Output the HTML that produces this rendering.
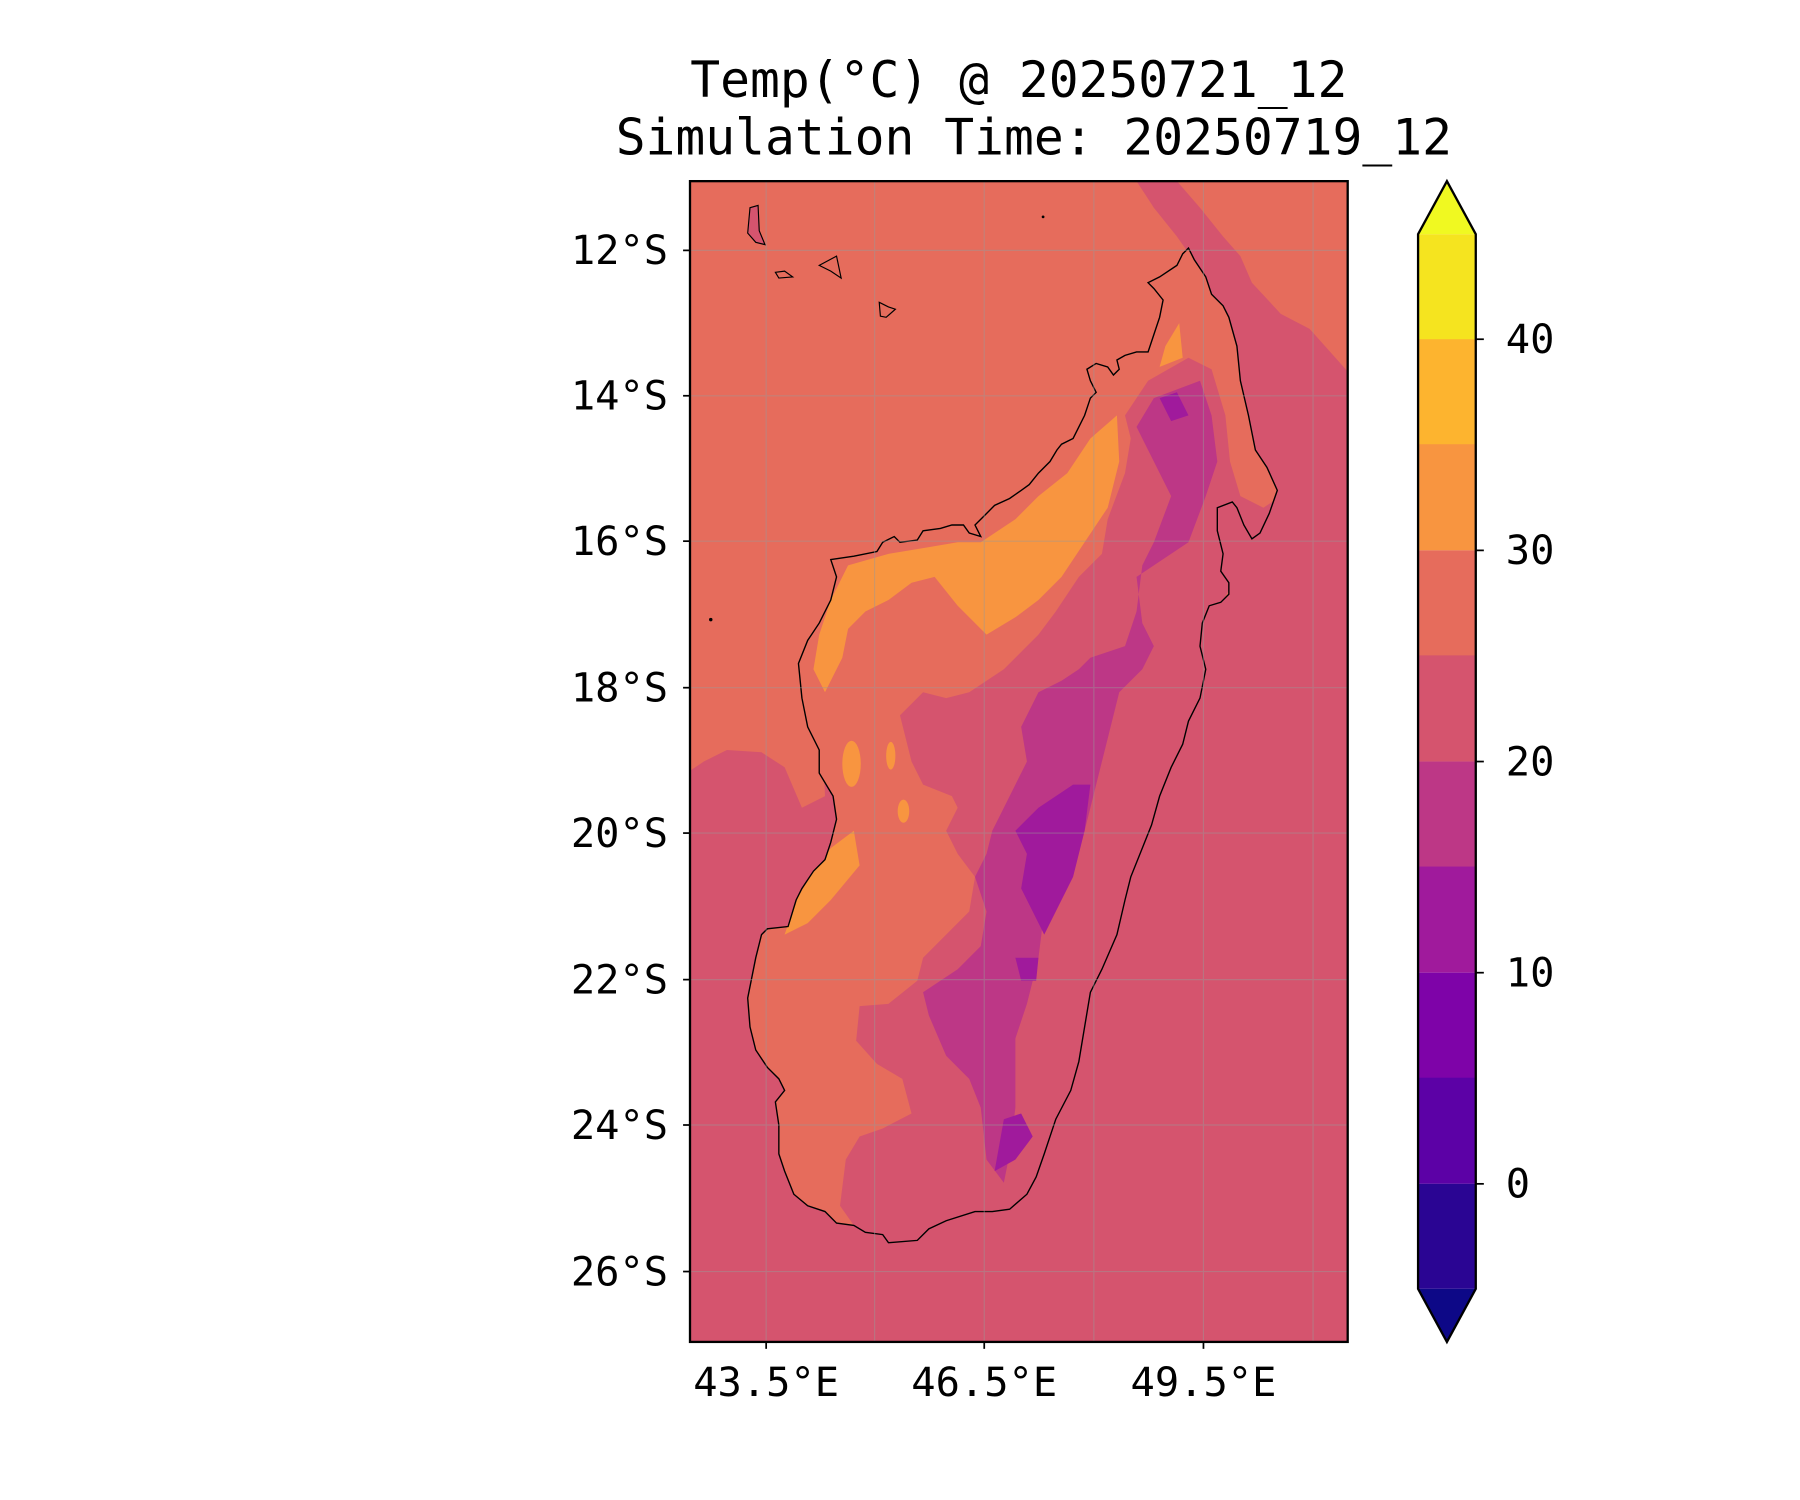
<!DOCTYPE html>
<html><head><meta charset="utf-8"><style>
html,body{margin:0;padding:0;background:#fff}
svg{display:block}
text{font-family:"DejaVu Sans Mono","Liberation Mono",monospace;fill:#000}
</style></head><body>
<svg width="1800" height="1500" viewBox="0 0 1560 1300" xmlns="http://www.w3.org/2000/svg">
<defs><clipPath id="ax"><rect x="598" y="157" width="570" height="1006"/></clipPath>
<clipPath id="land"><path id="coastp" d="M1030,215 L1035,225 1045,240 1050,255 1060,265 1065,275 1072,300 1075,330 1082,360 1088,390 1098,405 1107,425 1100,445 1092,462 1085,467 1078,455 1072,440 1068,435 1055,440 1055,460 1060,480 1058,495 1065,505 1065,515 1058,522 1048,525 1042,540 1040,560 1045,580 1040,605 1030,625 1025,645 1015,665 1005,690 998,715 990,735 980,760 975,780 968,810 955,840 945,860 940,890 935,920 928,945 915,970 910,985 905,1000 898,1020 890,1035 875,1048 860,1050 845,1050 820,1058 805,1065 795,1075 770,1077 765,1070 750,1068 740,1062 725,1060 715,1050 700,1045 688,1035 680,1015 675,1000 675,975 672,955 680,945 675,935 665,925 655,910 650,890 648,865 652,845 655,830 660,810 665,805 683,803 690,780 695,770 705,755 715,745 720,730 725,710 722,690 710,670 710,650 700,630 695,605 692,575 700,555 710,540 720,520 725,500 720,485 740,482 760,478 765,470 775,465 780,470 795,468 800,460 815,458 825,455 835,455 840,462 850,465 845,455 855,445 862,438 875,432 885,425 892,420 900,410 910,400 916,390 920,385 930,380 935,370 940,360 945,345 950,340 945,330 942,320 950,315 960,318 965,325 970,320 968,312 975,308 985,305 995,305 1000,290 1005,275 1008,260 1000,250 995,245 1005,240 1020,230 1025,220Z"/></clipPath></defs>
<g clip-path="url(#ax)">
<rect x="598" y="157" width="570" height="1006" fill="#d5546e"/>
<polygon fill="#e66c5c" points="598,157 985,157 1000,180 1020,205 1032,222 1010,300 900,500 760,560 712,620 715,690 695,700 680,665 660,652 630,650 610,660 598,668"/>
<polygon fill="#e66c5c" points="1020,157 1168,157 1168,322 1135,285 1110,272 1085,245 1075,222 1060,205 1040,180"/>
<g clip-path="url(#land)">
<rect x="598" y="157" width="570" height="1006" fill="#e66c5c"/>
<polygon fill="#d5546e" points="975,360 995,330 1030,310 1050,320 1062,360 1066,400 1075,430 1095,440 1110,430 1090,470 1060,520 1045,600 1030,650 1000,720 960,850 920,980 895,1040 860,1055 780,1085 740,1062 728,1045 733,1005 745,985 765,978 790,965 782,935 760,922 742,902 745,872 770,870 795,850 800,830 820,810 840,790 845,760 830,740 820,720 830,700 825,690 800,680 790,660 780,620 800,600 820,605 840,600 870,580 900,550 915,530 935,500 955,480 960,450 975,410 980,380"/>
<polygon fill="#bd3786" points="1000,345 1040,330 1050,360 1055,400 1045,430 1030,470 1000,490 985,500 990,540 1000,560 990,580 970,600 960,640 950,680 940,720 920,760 905,790 900,830 890,870 880,900 880,960 875,1000 870,1025 855,1005 850,960 840,935 820,915 805,880 800,860 830,840 850,820 855,790 845,760 855,740 860,720 870,700 880,680 890,660 885,630 900,600 920,590 935,580 945,570 975,560 985,530 990,490 1000,470 1015,430 1000,400 985,370"/>
<polygon fill="#a01a9c" points="900,700 930,680 945,680 940,720 930,760 915,790 905,810 895,790 885,770 890,740 880,720"/>
<polygon fill="#a01a9c" points="1005,345 1020,340 1030,360 1015,365"/>
<polygon fill="#a01a9c" points="880,830 900,830 898,850 885,850"/>
<polygon fill="#a01a9c" points="870,970 885,965 895,985 880,1005 862,1015"/>
<polygon fill="#f89540" points="735,490 770,480 800,475 830,470 850,470 880,450 900,430 925,410 945,380 968,360 970,400 960,440 940,470 920,500 900,520 880,535 855,550 830,525 810,500 790,505 770,520 750,530 735,545 730,570 715,600 705,580 710,550 720,520"/>
<polygon fill="#f89540" points="1010,300 1022,280 1025,310 1005,318"/>
<polygon fill="#f89540" points="740,720 745,750 720,780 700,800 680,810 690,780 705,755 720,735"/>
<ellipse fill="#f89540" cx="738" cy="662" rx="8" ry="20"/>
<ellipse fill="#f89540" cx="783" cy="703" rx="5" ry="10"/>
<ellipse fill="#f89540" cx="772" cy="655" rx="4" ry="12"/>
</g>
<use href="#coastp" fill="none" stroke="#000" stroke-width="1.2"/>
<path d="M650,180 L657,178 658,200 663,212 655,210 648,202Z" fill="#d5546e" stroke="#000" stroke-width="1"/>
<path d="M672,236 L680,235 687,240 675,241Z" fill="none" stroke="#000" stroke-width="1"/>
<path d="M710,230 L725,222 729,241 720,235Z" fill="none" stroke="#000" stroke-width="1"/>
<path d="M762,262 L770,266 776,268 768,275 763,274Z" fill="none" stroke="#000" stroke-width="1"/>
<circle cx="904" cy="188" r="1.2" fill="#000"/><circle cx="616" cy="537" r="1.5" fill="#000"/>
<g stroke="#999" stroke-width="1" opacity="0.45">
<line x1="664" y1="157" x2="664" y2="1163"/><line x1="758" y1="157" x2="758" y2="1163"/><line x1="853" y1="157" x2="853" y2="1163"/><line x1="948" y1="157" x2="948" y2="1163"/><line x1="1043" y1="157" x2="1043" y2="1163"/><line x1="1138" y1="157" x2="1138" y2="1163"/>
<line x1="598" y1="217" x2="1168" y2="217"/><line x1="598" y1="343" x2="1168" y2="343"/><line x1="598" y1="469" x2="1168" y2="469"/><line x1="598" y1="596" x2="1168" y2="596"/><line x1="598" y1="722" x2="1168" y2="722"/><line x1="598" y1="849" x2="1168" y2="849"/><line x1="598" y1="975" x2="1168" y2="975"/><line x1="598" y1="1102" x2="1168" y2="1102"/>
</g>
</g>
<rect x="598" y="157" width="570" height="1006" fill="none" stroke="#000" stroke-width="2"/>
<g stroke="#000" stroke-width="1.5">
<line x1="592" y1="217" x2="598" y2="217"/><line x1="592" y1="343" x2="598" y2="343"/><line x1="592" y1="469" x2="598" y2="469"/><line x1="592" y1="596" x2="598" y2="596"/><line x1="592" y1="722" x2="598" y2="722"/><line x1="592" y1="849" x2="598" y2="849"/><line x1="592" y1="975" x2="598" y2="975"/><line x1="592" y1="1102" x2="598" y2="1102"/>
<line x1="664" y1="1163" x2="664" y2="1169"/><line x1="853" y1="1163" x2="853" y2="1169"/><line x1="1043" y1="1163" x2="1043" y2="1169"/>
</g>
<g font-size="35" text-anchor="end">
<text x="579" y="229">12°S</text><text x="579" y="355">14°S</text><text x="579" y="481">16°S</text><text x="579" y="608">18°S</text><text x="579" y="734">20°S</text><text x="579" y="861">22°S</text><text x="579" y="987">24°S</text><text x="579" y="1114">26°S</text>
</g>
<g font-size="35" text-anchor="middle">
<text x="664" y="1210">43.5°E</text><text x="853" y="1210">46.5°E</text><text x="1043" y="1210">49.5°E</text>
</g>
<g font-size="43" text-anchor="middle">
<text x="883" y="84">Temp(°C) @ 20250721_12</text>
<text x="896" y="134">Simulation Time: 20250719_12</text>
</g>
<polygon points="1229,203 1254,157 1279,203" fill="#f0f921"/>
<rect x="1229" y="203" width="50" height="92" fill="#f5e41f"/>
<rect x="1229" y="294" width="50" height="92" fill="#fdb42f"/>
<rect x="1229" y="385" width="50" height="92" fill="#f89540"/>
<rect x="1229" y="477" width="50" height="92" fill="#e66c5c"/>
<rect x="1229" y="568" width="50" height="92" fill="#d5546e"/>
<rect x="1229" y="660" width="50" height="92" fill="#bd3786"/>
<rect x="1229" y="751" width="50" height="92" fill="#a01a9c"/>
<rect x="1229" y="843" width="50" height="92" fill="#7e03a8"/>
<rect x="1229" y="934" width="50" height="92" fill="#5c01a6"/>
<rect x="1229" y="1026" width="50" height="91" fill="#2a0593"/>
<polygon points="1229,1117 1254,1163 1279,1117" fill="#0d0887"/>
<polygon points="1229,203 1254,157 1279,203 1279,1117 1254,1163 1229,1117" fill="none" stroke="#000" stroke-width="2"/>
<g stroke="#000" stroke-width="1.5">
<line x1="1279" y1="294" x2="1286" y2="294"/><line x1="1279" y1="477" x2="1286" y2="477"/><line x1="1279" y1="660" x2="1286" y2="660"/><line x1="1279" y1="843" x2="1286" y2="843"/><line x1="1279" y1="1026" x2="1286" y2="1026"/>
</g>
<g font-size="35">
<text x="1305" y="306">40</text><text x="1305" y="489">30</text><text x="1305" y="672">20</text><text x="1305" y="855">10</text><text x="1305" y="1038">0</text>
</g>
</svg>
</body></html>
